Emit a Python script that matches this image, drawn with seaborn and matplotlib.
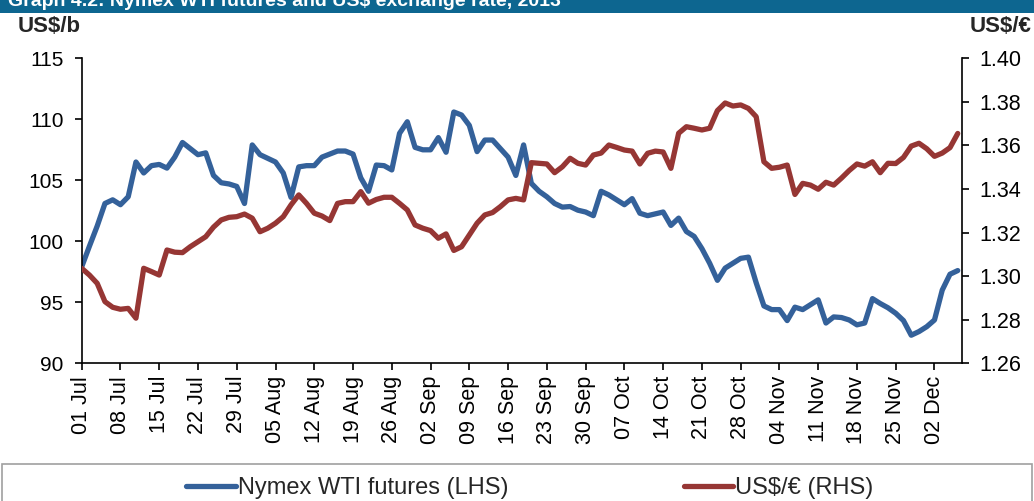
import numpy as np
import pandas as pd
import matplotlib
matplotlib.use("Agg")
import matplotlib.pyplot as plt
from matplotlib.lines import Line2D
from matplotlib.patches import Rectangle
import seaborn as sns

sns.set_theme(style="white")
plt.rcParams['font.family'] = ['Liberation Sans', 'DejaVu Sans']

# business days, 01 Jul 2013 - 05 Dec 2013
wti = [97.9, 99.6, 101.25, 103.1, 103.4, 103.0, 103.65, 106.5, 105.6, 106.2,
       106.3, 106.0, 106.9, 108.1, 107.6, 107.1, 107.25, 105.4, 104.8, 104.7,
       104.5, 103.1, 107.9, 107.1, 106.8, 106.5, 105.6, 103.6, 106.1, 106.2,
       106.2, 106.9, 107.15, 107.4, 107.4, 107.15, 105.2, 104.1, 106.25, 106.2,
       105.85, 108.85, 109.8, 107.7, 107.5, 107.5, 108.5, 107.3, 110.6, 110.35,
       109.5, 107.35, 108.3, 108.3, 107.6, 106.9, 105.4, 107.9, 104.75, 104.1,
       103.65, 103.1, 102.8, 102.85, 102.55, 102.4, 102.1, 104.1, 103.8, 103.4,
       103.0, 103.5, 102.3, 102.1, 102.25, 102.4, 101.3, 101.9, 100.8, 100.4,
       99.4, 98.2, 96.8, 97.8, 98.2, 98.6, 98.7, 96.6, 94.7, 94.4,
       94.4, 93.5, 94.6, 94.4, 94.8, 95.2, 93.3, 93.8, 93.75, 93.55,
       93.15, 93.3, 95.3, 94.9, 94.55, 94.1, 93.5, 92.3, 92.6, 93.0,
       93.55, 96.0, 97.3, 97.6]

usd_eur = [1.3036, 1.3005, 1.2967, 1.2883, 1.2857, 1.2848, 1.2852, 1.2807, 1.3036, 1.3021,
           1.3005, 1.3120, 1.3110, 1.3108, 1.3135, 1.3158, 1.3181, 1.3225, 1.3258, 1.3270,
           1.3273, 1.3285, 1.3266, 1.3204, 1.3220, 1.3243, 1.3273, 1.3327, 1.3373, 1.3334,
           1.3289, 1.3276, 1.3255, 1.3334, 1.3342, 1.3342, 1.3388, 1.3335, 1.3352, 1.3362,
           1.3362, 1.3334, 1.3304, 1.3235, 1.3220, 1.3209, 1.3174, 1.3194, 1.3118, 1.3135,
           1.3189, 1.3243, 1.3281, 1.3292, 1.3319, 1.3350, 1.3357, 1.3350, 1.3521, 1.3518,
           1.3515, 1.3475, 1.3502, 1.3541, 1.3518, 1.3510, 1.3556, 1.3565, 1.3602, 1.3591,
           1.3579, 1.3574, 1.3515, 1.3564, 1.3574, 1.3570, 1.3495, 1.3656, 1.3686, 1.3679,
           1.3671, 1.3679, 1.3760, 1.3795, 1.3781, 1.3786, 1.3770, 1.3732, 1.3525, 1.3495,
           1.3500, 1.3510, 1.3375, 1.3426, 1.3418, 1.3399, 1.3431, 1.3418, 1.3450, 1.3485,
           1.3515, 1.3505, 1.3525, 1.3475, 1.3518, 1.3517, 1.3545, 1.3597, 1.3610, 1.3585,
           1.3550, 1.3565, 1.3590, 1.3655]

week_labels = ["01 Jul", "08 Jul", "15 Jul", "22 Jul", "29 Jul", "05 Aug", "12 Aug",
               "19 Aug", "26 Aug", "02 Sep", "09 Sep", "16 Sep", "23 Sep", "30 Sep",
               "07 Oct", "14 Oct", "21 Oct", "28 Oct", "04 Nov", "11 Nov", "18 Nov",
               "25 Nov", "02 Dec"]

df = pd.DataFrame({"day": range(len(wti)), "wti": wti, "fx": usd_eur})

blue = "#34619a"
red = "#963634"
lw = 3.8

fig = plt.figure(figsize=(10.34, 5.01), dpi=100)
ax = fig.add_axes([0.079, 0.2749, 0.851, 0.6087])
ax2 = ax.twinx()

sns.lineplot(data=df, x="day", y="wti", ax=ax, color=blue, linewidth=lw)
sns.lineplot(data=df, x="day", y="fx", ax=ax2, color=red, linewidth=lw)

ax.set_xlim(0, 113.5)
ax.set_ylim(90, 115)
ax2.set_ylim(1.26, 1.40)
ax.set_yticks(np.arange(90, 116, 5))
ax2.set_yticks(np.arange(1.26, 1.401, 0.02))
ax2.set_yticklabels([f"{v:.2f}" for v in np.arange(1.26, 1.401, 0.02)])
ax.set_xticks(range(0, 5 * len(week_labels), 5))
ax.set_xticklabels(week_labels, rotation=90)

for a in (ax, ax2):
    a.set_xlabel("")
    a.set_ylabel("")
    a.spines["top"].set_visible(False)
    for s in ("left", "right", "bottom"):
        a.spines[s].set_color("black")
        a.spines[s].set_linewidth(1.2)
ax.spines["right"].set_visible(False)
ax2.spines["left"].set_visible(False)
ax2.spines["bottom"].set_visible(False)

ax.tick_params(axis="y", left=True, direction="out", length=5, width=1.2,
               labelsize=15, pad=8, colors="black")
ax.tick_params(axis="x", bottom=True, direction="out", length=5, width=1.2,
               labelsize=15.5, pad=4, colors="black")
ax2.tick_params(axis="y", right=True, direction="out", length=5, width=1.2,
                labelsize=15.5, pad=8, colors="black")

# header bar (cut off at top)
fig.patches.append(Rectangle((0, 1 - 13 / 501), 1, 13 / 501, transform=fig.transFigure,
                             facecolor="#0d6690", edgecolor="none"))
fig.text(0.008, 1 - 6 / 501, "Graph 4.2: Nymex WTI futures and US$ exchange rate, 2013",
         color="white", fontsize=14, fontweight="bold", va="baseline")

fig.text(0.017, 0.947, "US$/b", fontsize=16, fontweight="bold", va="center")
fig.text(0.998, 0.947, "US$/€", fontsize=16, fontweight="bold", va="center", ha="right")

# legend box
fig.patches.append(Rectangle((0.002, -0.02), 0.996, 0.093, transform=fig.transFigure,
                             facecolor="white", edgecolor="#a0a0a0", linewidth=1.2))
handles = [Line2D([], [], color=blue, linewidth=lw),
           Line2D([], [], color=red, linewidth=lw)]
fig.legend(handles, ["Nymex WTI futures (LHS)", "US$/€ (RHS)"], loc="center",
           bbox_to_anchor=(0.5126, 0.026), ncol=2, frameon=False, fontsize=17,
           handlelength=2.1, handletextpad=0.1, columnspacing=7.4)

fig.savefig("out.png", dpi=100)
